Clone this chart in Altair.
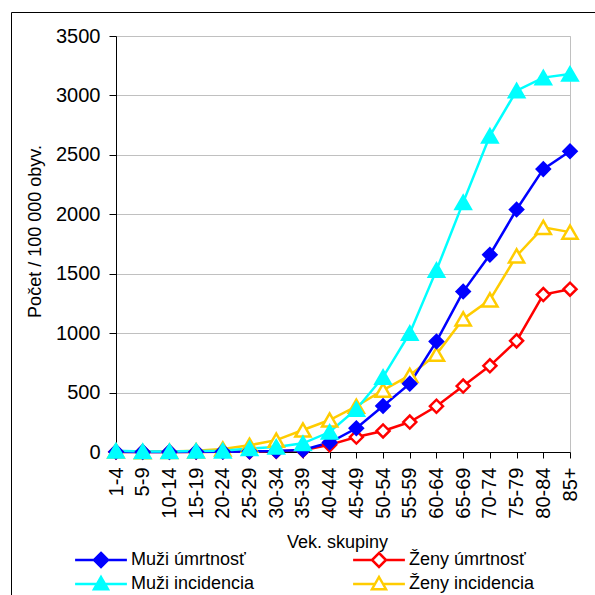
import altair as alt
import pandas as pd

categories = ["1-4", "5-9", "10-14", "15-19", "20-24", "25-29", "30-34", "35-39",
              "40-44", "45-49", "50-54", "55-59", "60-64", "65-69", "70-74",
              "75-79", "80-84", "85+"]
series_names = ["Muži úmrtnosť", "Ženy úmrtnosť", "Muži incidencia", "Ženy incidencia"]
muzi_umrtnost = [2, 1, 1, 2, 3, 5, 8, 17, 80, 200, 387, 575, 930, 1350, 1660, 2040, 2380, 2530]
zeny_umrtnost = [1, 1, 1, 1, 2, 3, 6, 15, 60, 126, 177, 252, 385, 555, 725, 935, 1325, 1370]
muzi_incidencia = [10, 5, 5, 8, 10, 30, 42, 73, 168, 360, 630, 1000, 1530, 2100, 2660, 3040, 3150, 3180]
zeny_incidencia = [8, 2, 5, 10, 25, 57, 100, 185, 269, 385, 520, 645, 822, 1120, 1280, 1650, 1890, 1850]
colors = ["#0000FF", "#FF0000", "#00FFFF", "#FFCC00"]
shapes = ["diamond", "diamond", "triangle-up", "triangle-up"]
fills = ["#0000FF", "white", "#00FFFF", "white"]
sizes = [170, 170, 230, 230]
draw_order = ["Ženy úmrtnosť", "Ženy incidencia", "Muži úmrtnosť", "Muži incidencia"]

values = dict(zip(series_names, [muzi_umrtnost, zeny_umrtnost, muzi_incidencia, zeny_incidencia]))
rows = []
for name in draw_order:
    for c, v in zip(categories, values[name]):
        rows.append({"vek": c, "hodnota": v, "serie": name})
df = pd.DataFrame(rows)

FONT = "Liberation Sans"

# legend symbol paths (line + marker), 1 unit = 7 px at size 196
diamond_path = "M-3.7,0H-1M1,0H3.7M0,-1L1,0L0,1L-1,0Z"
triangle_path = "M-3.7,0H-0.57M0.57,0H3.7M0,-1L1,0.75L-1,0.75Z"
leg_paths = [diamond_path, diamond_path, triangle_path, triangle_path]


def expr_map(keys, vals):
    e = "'" + vals[-1] + "'"
    for k, v in reversed(list(zip(keys[:-1], vals[:-1]))):
        e = "datum.value === '" + k + "' ? '" + v + "' : (" + e + ")"
    return e


legend = alt.Legend(
    title=None, orient="none", direction="horizontal", legendX=-24, legendY=515,
    columns=2, columnPadding=93, rowPadding=0, labelOffset=21,
    labelFont=FONT, labelFontSize=18, labelColor="black",
    symbolSize=196, symbolStrokeWidth=2.5, symbolOpacity=1, labelLimit=300,
)
# custom legend symbols (line with marker), passed through to Vega-Lite
legend._kwds["encoding"] = {"symbols": {
    "shape": {"value": {"expr": expr_map(series_names, leg_paths)}},
    "fill": {"value": {"expr": expr_map(series_names, fills)}},
    "size": {"value": 196},
    "strokeWidth": {"value": 2.5},
    "opacity": {"value": 1},
}}

_orig_to_dict = alt.LayerChart.to_dict


def _to_dict_novalidate(self, *args, **kwargs):
    kwargs["validate"] = False
    return _orig_to_dict(self, *args, **kwargs)


alt.LayerChart.to_dict = _to_dict_novalidate

color = alt.Color("serie:N", scale=alt.Scale(domain=series_names, range=colors), legend=legend)
x = alt.X("vek:N", sort=categories, scale=alt.Scale(type="point", padding=0),
          axis=alt.Axis(title="Vek. skupiny", labelAngle=270, labelFontSize=20,
                        labelPadding=9, tickSize=6, tickColor="black",
                        domainColor="black", grid=False,
                        titleX=221, titleY=95, titleAlign="center",
                        titleBaseline="alphabetic", titleFontSize=18))
y = alt.Y("hodnota:Q", scale=alt.Scale(domain=[0, 3500], nice=False),
          axis=alt.Axis(title="Počet / 100 000 obyv.", values=list(range(0, 3501, 500)),
                        format="d",
                        labelFontSize=20, labelPadding=9, tickSize=7, tickColor="black",
                        domainColor="black", grid=True, gridColor="#c0c0c0",
                        titleX=-81, titleY=195, titleAngle=270, titleAlign="center",
                        titleBaseline="middle", titleFontSize=18))

base = alt.Chart(df)
lines = base.mark_line(strokeWidth=2.5).encode(x=x, y=y, color=color)

style = {n: (c, s, f, z) for n, c, s, f, z in zip(series_names, colors, shapes, fills, sizes)}
point_layers = []
for name in draw_order:
    c, s, f, z = style[name]
    point_layers.append(
        base.transform_filter(alt.datum.serie == name).mark_point(
            shape=s, stroke=c, fill=f, size=z, strokeWidth=2.5, opacity=1, filled=False
        ).encode(x=x, y=y)
    )

frame = alt.Chart(pd.DataFrame({"f": [0]})).mark_rect(
    fill="transparent", stroke="black", strokeWidth=1
).encode(x=alt.value(-104.5), x2=alt.value(620), y=alt.value(-23.5), y2=alt.value(620))

chart = alt.layer(frame, lines, *point_layers).properties(
    width=454, height=416,
    autosize=alt.AutoSizeParams(type="none"),
    padding={"left": 116, "top": 36, "right": 25, "bottom": 143},
).configure_view(stroke="#c0c0c0", strokeWidth=1).configure_axis(
    labelFont=FONT, titleFont=FONT, labelColor="black", titleColor="black",
    titleFontWeight="normal"
)

chart.save("out.html", embed_options={"renderer": "svg", "actions": False})
